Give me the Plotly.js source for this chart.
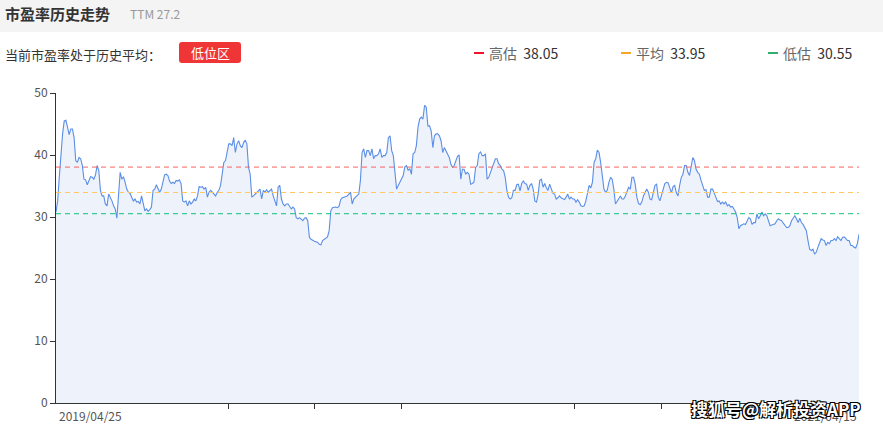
<!DOCTYPE html>
<html>
<head>
<meta charset="utf-8">
<script src="https://cdn.plot.ly/plotly-3.0.1.min.js"></script>
<style>
html,body{margin:0;padding:0;background:#fff;}
#chart{width:883px;height:427px;}
</style>
</head>
<body>
<div id="chart"></div>
<script>
// ---- data (PE TTM, daily, 2019/04/25 .. 2021/04/15) ----
const startLabel = "2019/04/25";
const endLabel = "2021/04/15";
const peSeg1 = [30.8,32.6,36.4,40.2,43.4,45.5,45.6,44.5,43.3,44.2,44.2,42.8,39.1,38.8,39.6,39.4,38.3,36.1,36.0,35.2,35.8,36.5,36.4,36.1,36.8,38.3,37.5,34.3,33.4,33.4,32.1,31.8,33.7,33.2,32.6,31.8,31.3,29.8,33.7,37.2,36.1,36.5,35.6,34.5,34.0,33.8,33.2,32.6,32.9,32.4,32.5,32.1,33.4,32.1,31.0,31.3,30.9,31.2,31.6,34.3,34.5,35.2,34.7,34.0,34.5,35.9,36.8,36.9,36.7,35.8,35.4,35.6,35.4,35.9,35.8,36.0,35.4,32.6,32.4,32.6,31.8,32.6,32.1,32.4,32.9,32.6,33.4,34.9,34.8,34.9,34.5,34.8,33.2,34.0,34.3,34.0,33.7,33.4,34.0,34.3,35.1,36.9,38.8,39.1,40.4,41.8,41.8,41.5,42.8,40.4,41.8,42.3,41.5,41.2,42.0,42.4,41.8,38.0,36.9,33.2,33.4,33.7];
const peSeg2 = [34.0,34.3,34.5,32.9,34.3,34.0,34.4,34.0,34.3,34.5,33.4,32.6,31.8,34.8,35.1,32.9,32.1,31.8,32.1,32.1,31.7,31.3,31.6,31.3,29.9,29.7,29.9,29.7,29.4,29.8,29.9,29.4,26.7,26.4,26.2,26.1,26.0,25.9,25.6,25.5,26.2,26.4,26.6,26.8,27.8,31.0,31.5,31.6,31.6,31.5,31.7,32.8,33.1,33.2,33.3,33.4,33.7,34.0,32.1,32.9,33.2,33.4,33.7,35.9,40.4,41.0,39.6,40.7,40.7,39.9,41.0,39.4,39.9,39.9,40.2,41.0,39.6,39.9,39.9,40.4,42.8,43.1,40.7,39.9,36.9,34.5,35.1,35.6,36.1,36.7,38.1,38.3,37.5,37.8,36.9,40.2,40.4,41.5,44.5,45.8,46.1,45.8,48.0,47.7,44.7,44.7,43.9,41.2,43.1,43.4,43.4,43.1,42.3,40.4,41.2,40.7,40.0,39.6,38.5,38.0,38.3,39.1,39.8,40.0];
const peSeg3 = [36.1,37.7,37.7,36.9,37.2,36.9,35.3,35.4,35.6,38.0,38.3,40.2,40.5,39.9,39.9,40.2,36.1,36.4,37.2,37.7,38.7,39.4,39.4,38.6,38.3,37.7,37.5,36.4,34.3,33.2,32.9,33.1,34.3,34.3,35.2,35.3,34.2,35.4,35.8,35.4,35.3,34.3,35.1,35.4,34.5,32.6,32.4,33.7,35.9,36.1,34.8,35.4,34.7,34.3,35.3,34.5,33.8,33.7,32.9,33.1,33.4,33.1,32.9,32.8,33.2,33.7,32.9,33.2,32.9,32.9,32.4,32.8,32.4,31.8,31.7,31.8,32.6,33.7,35.1,34.7,35.6,38.8,39.4,40.8,40.4,38.8,36.9,34.5,34.0,34.3,35.6,36.4,36.1,34.5,32.1,32.6,32.9,33.4,32.9,32.9,33.4,34.2,34.8,34.5,36.4,36.4,35.3,33.2,32.2,32.0,32.4,33.4,34.0,34.5,34.0,32.9,32.8,34.0,35.1,35.3,33.2,32.6,33.7,34.8];
const peSeg4 = [35.4,35.6,35.5,34.7,33.9,34.9,35.1,33.9,33.4,35.1,36.4,36.9,38.3,38.3,37.2,36.7,38.5,39.6,39.1,37.7,37.2,36.9,35.9,35.1,34.3,34.4,33.2,33.2,34.5,34.5,33.7,33.2,32.5,32.6,32.1,32.4,32.1,32.4,31.8,32.0,31.6,31.7,31.3,30.8,29.9,28.1,28.6,28.8,28.9,28.8,29.5,29.9,29.7,28.8,29.1,29.1,30.5,29.7,30.2,30.8,30.2,30.5,30.2,29.4,28.6,28.7,28.8,28.9,29.4,29.7,29.5,29.4,29.0,28.6,28.3,28.3,28.6,29.4,29.8,30.2,29.7,29.1,29.8,29.1,28.8,28.4,27.8,26.2,24.8,24.6,24.8,24.0,24.3,25.1,25.9,26.5,26.3,26.2,25.4,25.9,25.7,26.2,26.2,26.5,26.2,26.8,26.5,26.2,26.7,26.8,26.5,26.2,26.2,25.4,25.4,25.1,25.0,25.7,27.2];
const peValues = peSeg1.concat(peSeg2, peSeg3, peSeg4);
const dayIndex = peValues.map((_, i) => i);

const levelNames = ["高估", "平均", "低估"];
const levelValues = [38.05, 33.95, 30.55];
const ttmValue = 27.2;
const yTicks = [0, 10, 20, 30, 40, 50];
const xTickIdx = [105, 157, 210, 315, 368];

// ---- layout helpers (pixel -> paper) ----
const L = 56, R = 859, T = 93, B = 403;
const px = p => (p - L) / (R - L);
const py = p => (B - p) / (B - T);
const FONT = '"Microsoft YaHei","Noto Sans CJK SC","Noto Sans",sans-serif';

const lineColors = ["#f86262", "#ffc864", "#00c070"];
const legendColors = ["#f0142d", "#f5a623", "#2fae6c"];

const shapes = [];
// header band
shapes.push({type:'rect', xref:'paper', yref:'paper', x0:px(0), x1:px(883), y0:py(32), y1:py(0), fillcolor:'#f4f4f4', line:{width:0}, layer:'below'});
// badge with rounded corners (pixel path converted to paper)
(function(){
  const x0=179, x1=241, y0=42, y1=63, r=3;
  const P = (x,y) => px(x) + ',' + py(y);
  const path = 'M' + P(x0+r,y0) + ' L' + P(x1-r,y0) + ' Q' + P(x1,y0) + ' ' + P(x1,y0+r) +
    ' L' + P(x1,y1-r) + ' Q' + P(x1,y1) + ' ' + P(x1-r,y1) + ' L' + P(x0+r,y1) + ' Q' + P(x0,y1) + ' ' + P(x0,y1-r) +
    ' L' + P(x0,y0+r) + ' Q' + P(x0,y0) + ' ' + P(x0+r,y0) + ' Z';
  shapes.push({type:'path', xref:'paper', yref:'paper', path, fillcolor:'#ef3535', line:{width:0}});
})();
// level dashed lines
levelValues.forEach((v, i) => {
  shapes.push({type:'line', xref:'paper', yref:'y', x0:0, x1:1, y0:v, y1:v, layer:'above', opacity:i===2?0.75:1, line:{color:lineColors[i], width:i===2?1.4:1, dash:'5px,4px'}});
});
// legend marks
const legX = [474, 621, 768];
levelValues.forEach((v, i) => {
  shapes.push({type:'line', xref:'paper', yref:'paper', x0:px(legX[i]), x1:px(legX[i]+10), y0:py(53), y1:py(53), line:{color:legendColors[i], width:2}});
});

const annotations = [];
const ann = (text, x, y, size, color, anchor, extra) => annotations.push(Object.assign({
  text, xref:'paper', yref:'paper', x:px(x), y:py(y), xanchor:anchor||'left', yanchor:'middle',
  showarrow:false, font:{family:FONT, size, color}
}, extra||{}));

ann('<b>市盈率历史走势</b>', 3, 13, 15, '#333333');
ann('TTM ' + ttmValue, 128, 13, 12, '#999999');
ann('当前市盈率处于历史平均：', 3, 54, 13, '#333333');
ann('低位区', 210, 53, 13, '#ffffff', 'center');
levelValues.forEach((v, i) => {
  ann(levelNames[i] + '&nbsp; <span style="color:#333">' + v.toFixed(2) + '</span>', legX[i] + 13, 53, 14, '#666666');
});
ann(startLabel, 57, 415, 12, '#555555', 'left');
ann(endLabel, 859, 415, 12, '#555555', 'right');
ann('<b>搜狐号@解析投资APP</b>', 776, 408, 17, '#ffffff', 'center',
  {font:{family:FONT, size:17, color:'#ffffff', shadow:'1px 1px 0 #000, -1px -1px 0 #000, 1px -1px 0 #000, -1px 1px 0 #000'}});

const trace = {
  x: dayIndex, y: peValues, type:'scatter', mode:'lines',
  line:{color:'#5b8ee6', width:1.1},
  fill:'tozeroy', fillcolor:'rgba(222,232,248,0.55)',
  hoverinfo:'skip'
};

const layout = {
  width:883, height:427,
  margin:{l:L, r:883-R, t:T, b:427-B, pad:0},
  paper_bgcolor:'#ffffff', plot_bgcolor:'#ffffff',
  showlegend:false,
  font:{family:FONT, size:12, color:'#555'},
  xaxis:{range:[0, peValues.length-1], showgrid:false, zeroline:false, showline:true, linecolor:'#333', linewidth:1,
         ticks:'outside', ticklen:5, tickcolor:'#333', tickvals:xTickIdx, ticktext:xTickIdx.map(()=>''), fixedrange:true},
  yaxis:{range:[0,50], showgrid:false, zeroline:false, showline:true, linecolor:'#333', linewidth:1,
         ticks:'outside', ticklen:5, tickcolor:'#333', tickvals:yTicks, ticktext:yTicks.map(String),
         tickfont:{family:FONT, size:12, color:'#555'}, fixedrange:true},
  shapes, annotations
};

Plotly.newPlot('chart', [trace], layout, {displayModeBar:false, staticPlot:true});
</script>
</body>
</html>
